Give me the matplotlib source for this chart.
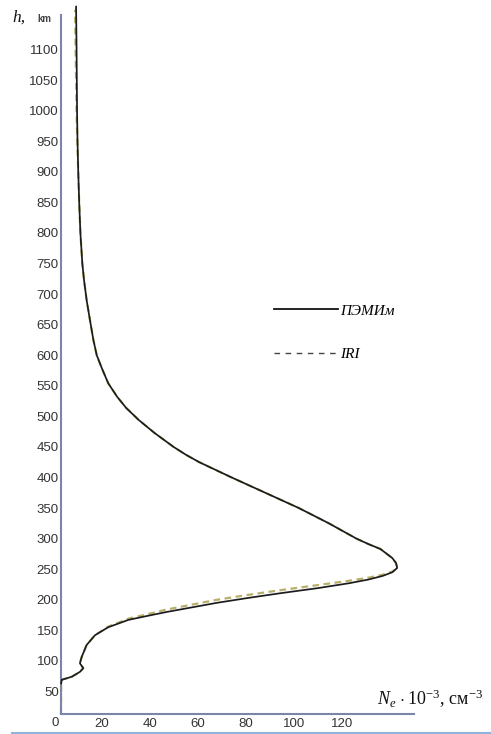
import matplotlib
matplotlib.use("Agg")
import matplotlib.pyplot as plt
from matplotlib.lines import Line2D

# electron density profiles, Ne*1e-3 (cm^-3) vs height h (km)
pem_ne = [3.0, 3.2, 7.4, 10.8, 12.2, 10.8, 11.5, 13.6, 17.1, 22.6, 31, 40.7,
          47, 68, 81, 95, 110, 123, 131, 137, 141, 143, 142.5, 141, 138,
          136, 131, 126, 114.5, 102, 88, 74, 60.5, 55, 49.8, 41.8, 35.3, 30.0,
          26.3, 22.6, 19.9, 17.8, 16.4, 15, 13.6, 12.5, 11.8, 11.0, 10.5, 10.1,
          9.8, 9.6, 9.5, 9.4, 9.2]
pem_h = [63, 69, 74, 82, 88, 96, 106, 126, 142, 155, 167, 175,
         180, 195, 203, 211, 219, 227, 233, 239, 245, 252, 260, 268, 277,
         283, 291, 300, 325, 350, 375, 400, 425, 437, 450, 473, 494, 514, 532,
         554, 579, 600, 625, 657, 690, 723, 750, 800, 850, 900, 950,
         1000, 1050, 1100, 1170]

iri_ne = [2.9, 3.0, 3.2, 7.4, 10.8, 12.2, 10.8, 11.5, 13.6, 17.1, 22.6, 31,
          40.7, 47, 68, 81, 95, 110, 123, 131, 137, 141, 143, 142.5, 141,
          138, 136, 131, 126, 114.5, 102, 88, 74, 60.5, 55, 49.8, 41.8, 35.3,
          30.0, 26.3, 22.6, 19.9, 17.8, 16.4, 15, 13.6, 12.5, 11.8, 11.0,
          10.5, 10.1, 9.7, 9.4, 9.2, 9.0, 8.8]
iri_h = [13, 63, 69, 74, 82, 88, 96, 106, 126, 142, 156, 169,
         178, 184, 200, 208, 216, 224, 231, 236, 241, 246, 252, 260, 268,
         277, 283, 291, 300, 325, 350, 375, 400, 425, 437, 450, 473, 494, 514,
         532, 554, 579, 600, 625, 657, 690, 723, 750, 800, 850, 900,
         950, 1000, 1050, 1100, 1165]

y_ticks = list(range(0, 1101, 50))
x_ticks = [20, 40, 60, 80, 100, 120]

plt.rcParams['mathtext.fontset'] = 'custom'
plt.rcParams['mathtext.rm'] = 'Liberation Serif'
plt.rcParams['mathtext.it'] = 'Liberation Serif:italic'

W, H = 491, 734
fig = plt.figure(figsize=(W / 100, H / 100), dpi=100)
# Ne 0 -> x=54px, 2.4 px per unit; h 0 -> y=722px, 0.6114 px per km
ax = fig.add_axes([54 / W, 12 / H, 360 / W, 1175 * 0.6114 / H])
ax.set_xlim(0, 150)
ax.set_ylim(0, 1175)

ax.plot(iri_ne, iri_h, color='#b8b06a', lw=1.6, ls=(0, (3, 2)), zorder=2)
ax.plot(pem_ne, pem_h, color='#1c1c1c', lw=1.25, zorder=3)

axis_col = '#7c84a8'
for s in ['top', 'right']:
    ax.spines[s].set_visible(False)
ax.spines['left'].set_position(('data', 2.9))
ax.spines['left'].set_bounds(13, 1156)
ax.spines['bottom'].set_position(('data', 13))
ax.spines['bottom'].set_bounds(2.9, 150)
for s in ['left', 'bottom']:
    ax.spines[s].set_color(axis_col)
    ax.spines[s].set_linewidth(1.5)

ax.set_yticks(y_ticks)
ax.set_xticks(x_ticks)
ax.tick_params(axis='y', length=0, pad=1.5, labelsize=9.5, labelcolor='#333333')
ax.tick_params(axis='x', length=0, pad=3.2, labelsize=9.5, labelcolor='#333333')
for lab in ax.get_xticklabels() + ax.get_yticklabels():
    lab.set_family('Liberation Sans')

# axis titles
fig.text(12 / W, 1 - 22 / H, 'h,', family='Liberation Serif', style='italic',
         fontsize=12.5, color='#111111', va='baseline')
fig.text(37 / W, 1 - 22 / H, 'km', family='Liberation Sans', fontsize=7,
         weight='bold', color='#444444', va='baseline')
fig.text(377 / W, 1 - 705 / H, r'$N_e\,\cdot10^{-3}$, см$^{-3}$',
         family='Liberation Serif', fontsize=13, color='#111111',
         va='baseline')

handles = [Line2D([], [], color='#111111', lw=1.3),
           Line2D([], [], color='#444444', lw=1.0, ls=(0, (4, 4)))]
leg = ax.legend(handles, ['ПЭМИм', 'IRI'], frameon=False,
                loc='upper left', bbox_to_anchor=(274 / W, 1 - 304 / H),
                bbox_transform=fig.transFigure, borderpad=0,
                borderaxespad=0, handlelength=4.2, handletextpad=0.15,
                labelspacing=1.95,
                prop={'family': 'Liberation Serif', 'style': 'italic',
                      'size': 11})

# screenshot border line at the bottom
fig.add_artist(Line2D([12 / W, 1], [1.5 / H, 1.5 / H], color='#8fb2da',
                      lw=1.5, transform=fig.transFigure))

fig.savefig('out.png', dpi=100)
